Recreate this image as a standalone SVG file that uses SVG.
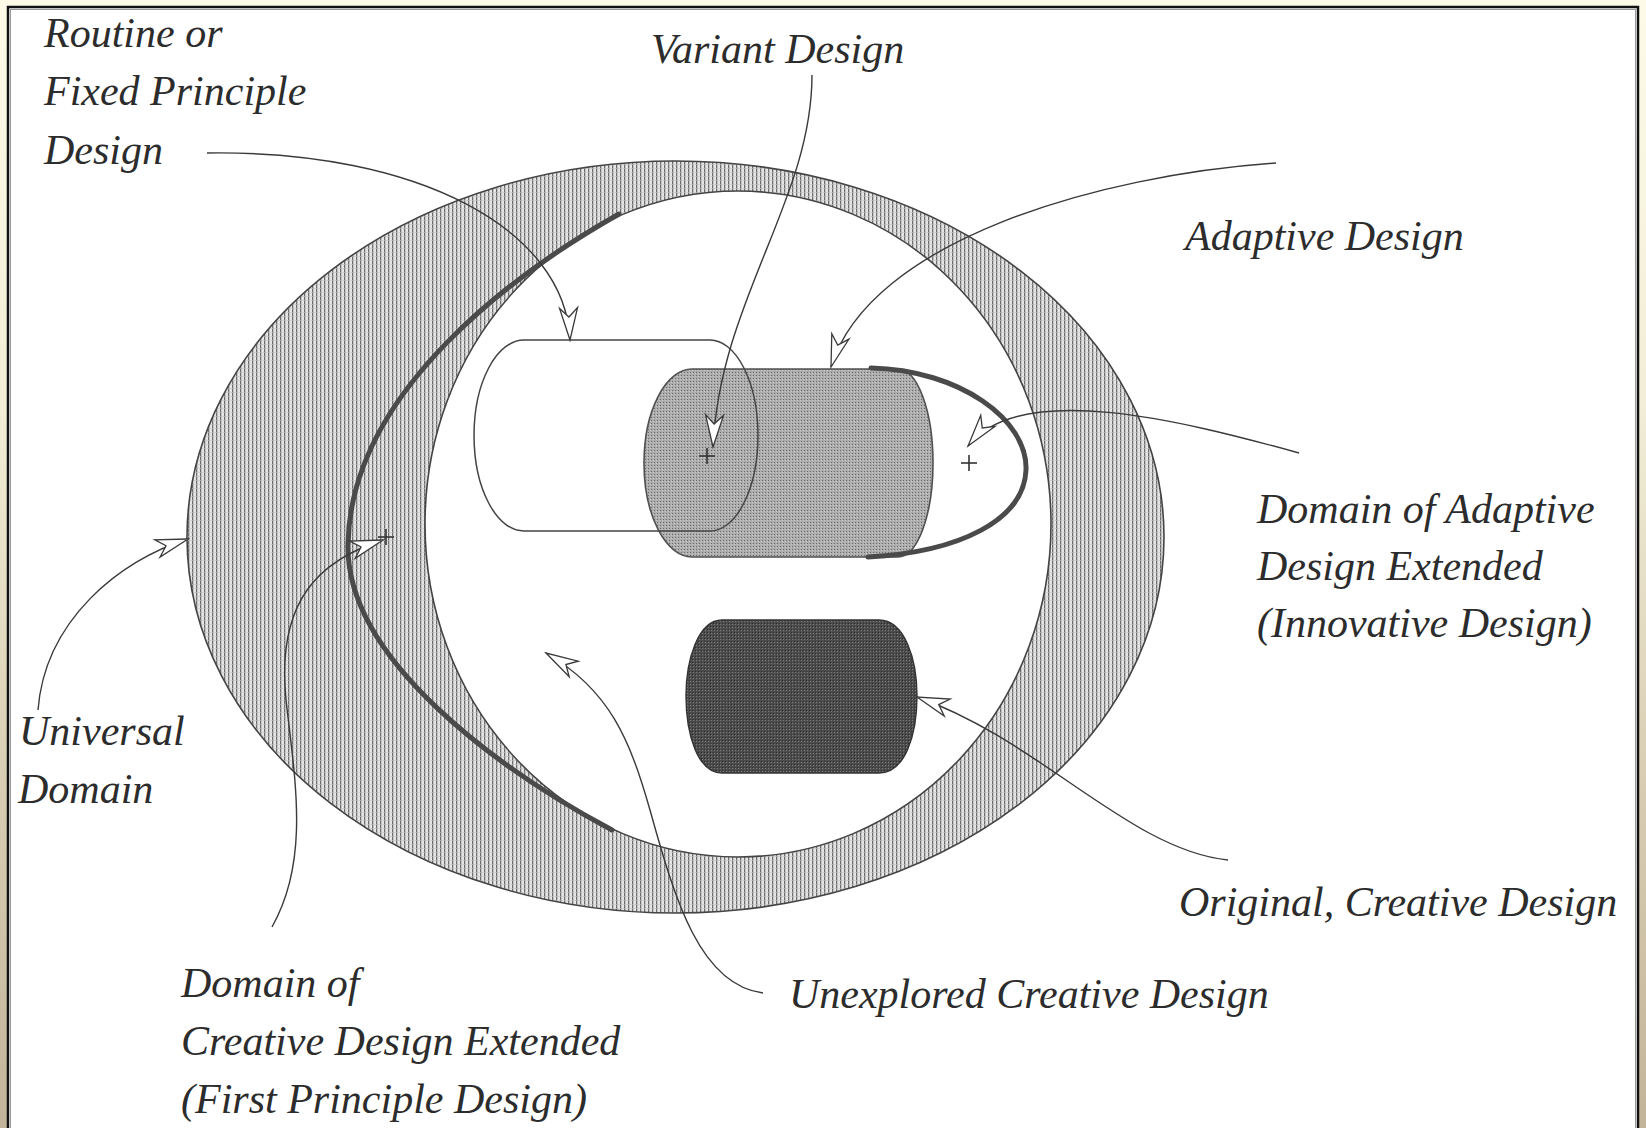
<svg xmlns="http://www.w3.org/2000/svg" width="1646" height="1128" viewBox="0 0 1646 1128">
<style>
.lbl{font-family:"Liberation Serif","Times New Roman",serif;font-style:italic;font-size:42px;fill:#2c2c2c}
.edge{fill:none;stroke:#444;stroke-width:1.5}
.conn{fill:none;stroke:#3a3a3a;stroke-width:1.4;marker-end:url(#ah)}
.thick{fill:none;stroke:#4a4a4a;stroke-width:5;stroke-linecap:round}
.plus{stroke:#333;stroke-width:1.6}
</style>
<defs>
<linearGradient id="bg" x1="0" y1="0" x2="0" y2="1">
<stop offset="0" stop-color="#fdfbe8"/>
<stop offset="0.35" stop-color="#f2eed7"/>
<stop offset="0.7" stop-color="#d8cdb3"/>
<stop offset="1" stop-color="#c2b498"/>
</linearGradient>
<pattern id="hatch" width="4" height="4" patternUnits="userSpaceOnUse">
<rect width="4" height="4" fill="#e6e6e6"/>
<rect x="0" y="0" width="1.3" height="4" fill="#6e6e6e"/>
<rect x="0" y="0" width="4" height="0.6" fill="#c2c2c2"/>
</pattern>
<pattern id="stip" width="3" height="3" patternUnits="userSpaceOnUse">
<rect width="3" height="3" fill="#adadad"/>
<rect x="0" y="0" width="1" height="1" fill="#6a6a6a"/>
<rect x="2" y="1" width="1" height="1" fill="#cacaca"/>
</pattern>
<pattern id="dark" width="3" height="3" patternUnits="userSpaceOnUse">
<rect width="3" height="3" fill="#4c4c4c"/>
<rect x="0" y="0" width="1" height="1" fill="#7c7c7c"/>
<rect x="2" y="2" width="1" height="1" fill="#2c2c2c"/>
</pattern>
<marker id="ah" markerUnits="userSpaceOnUse" orient="auto" refX="0" refY="0" markerWidth="40" markerHeight="24" viewBox="-36 -12 40 24" overflow="visible">
<path d="M0,0 L-32,-9 L-23,0 L-32,9 Z" fill="#fff" stroke="#3a3a3a" stroke-width="1.3" stroke-linejoin="miter"/>
</marker>
</defs>

<rect x="0" y="0" width="1646" height="1128" fill="url(#bg)"/>
<rect x="8" y="7" width="1630" height="1130" fill="#fff" stroke="#111" stroke-width="2.5"/>
<rect x="10.5" y="9.5" width="1625" height="1130" fill="none" stroke="#999" stroke-width="1"/>

<g id="universal-domain">
<ellipse cx="675.5" cy="537" rx="488.5" ry="376" fill="url(#hatch)" stroke="#444" stroke-width="1.6"/>
</g>
<g id="unexplored-domain">
<ellipse cx="738" cy="524" rx="313" ry="333" fill="#fff" stroke="#444" stroke-width="1.6"/>
</g>
<g id="creative-extended">
<path class="thick" d="M619,214 C520,270 350,390 348,545 C346,660 500,770 612,830"/>
<line class="plus" x1="378" y1="537" x2="394" y2="537"/>
<line class="plus" x1="386" y1="529" x2="386" y2="545"/>
</g>
<g id="adaptive-design">
<path d="M692,369 L898,369 A35,94 0 0 1 898,557 L692,557 A48,94 0 0 1 692,369 Z" fill="url(#stip)" stroke="#505050" stroke-width="1.6"/>
</g>
<g id="innovative-extended">
<path class="thick" d="M871,368 C960,370 1028,420 1026,470 C1024,520 960,552 868,557"/>
<line class="plus" x1="961" y1="463" x2="977" y2="463"/>
<line class="plus" x1="969" y1="455" x2="969" y2="471"/>
</g>
<g id="routine-design">
<path class="edge" d="M524,340 L710,340 A48,95.5 0 0 1 710,531 L524,531 A50,95.5 0 0 1 524,340 Z"/>
</g>
<g id="variant-design">
<line class="plus" x1="699" y1="456" x2="715" y2="456"/>
<line class="plus" x1="707" y1="448" x2="707" y2="464"/>
</g>
<g id="original-design">
<path d="M722,620 L879,620 C905,620 917,660 917,696 C917,735 905,773 879,773 L722,773 C698,773 686,735 686,696 C686,660 698,620 722,620 Z" fill="url(#dark)" stroke="#333" stroke-width="1.4"/>
</g>

<g id="connectors">
<path class="conn" d="M207,153 C420,150 565,230 570,340"/>
<path class="conn" d="M812,75 C812,200 720,300 713,447"/>
<path class="conn" d="M1276,163 C1100,175 870,240 831,367"/>
<path class="conn" d="M1299,453 C1180,420 1020,380 968,446"/>
<path class="conn" d="M38,710 C45,620 120,560 188,539"/>
<path class="conn" d="M272,927 C310,860 295,780 286,700 C276,600 320,560 383,540"/>
<path class="conn" d="M763,993 C700,985 675,900 650,810 C630,740 610,690 546,653"/>
<path class="conn" d="M1228,860 C1130,850 1040,740 917,697"/>
</g>

<g id="label-routine">
<text class="lbl" x="44" y="47">Routine or</text>
<text class="lbl" x="44" y="105">Fixed Principle</text>
<text class="lbl" x="44" y="164">Design</text>
</g>
<g id="label-variant"><text class="lbl" x="651" y="63">Variant Design</text></g>
<g id="label-adaptive"><text class="lbl" x="1185" y="250">Adaptive Design</text></g>
<g id="label-innovative">
<text class="lbl" x="1257" y="523">Domain of Adaptive</text>
<text class="lbl" x="1257" y="580">Design Extended</text>
<text class="lbl" x="1257" y="637">(Innovative Design)</text>
</g>
<g id="label-original"><text class="lbl" x="1179" y="916">Original, Creative Design</text></g>
<g id="label-unexplored"><text class="lbl" x="789" y="1008">Unexplored Creative Design</text></g>
<g id="label-universal">
<text class="lbl" x="19" y="745">Universal</text>
<text class="lbl" x="18" y="803">Domain</text>
</g>
<g id="label-first-principle">
<text class="lbl" x="181" y="997">Domain of</text>
<text class="lbl" x="181" y="1055">Creative Design Extended</text>
<text class="lbl" x="181" y="1113">(First Principle Design)</text>
</g>
</svg>
